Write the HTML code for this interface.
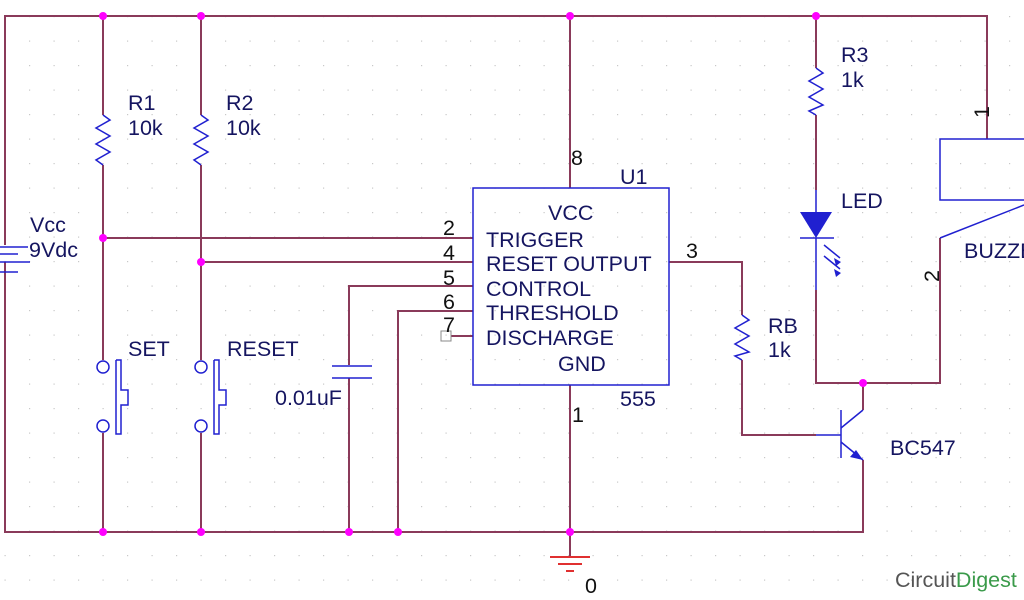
<!DOCTYPE html>
<html><head><meta charset="utf-8"><style>
html,body{margin:0;padding:0;background:#fff;width:1024px;height:600px;overflow:hidden}
text{font-family:"Liberation Sans",Arial,sans-serif;font-size:21.5px;fill:#151560}
.n{fill:#111}
</style></head><body>
<svg width="1024" height="600" viewBox="0 0 1024 600" xmlns="http://www.w3.org/2000/svg">
<defs><pattern id="g" x="4.5" y="16" width="24.5" height="24.5" patternUnits="userSpaceOnUse"><rect x="0" y="0" width="1.2" height="1.2" fill="#c8c8c8"/></pattern></defs>
<rect width="1024" height="600" fill="url(#g)"/>
<g stroke="#8a3a5a" stroke-width="2" fill="none">
<polyline points="5,245 5,16 987,16 987,139"/>
<polyline points="5,262 5,532 863,532 863,460"/>
<line x1="103" y1="16" x2="103" y2="115"/><line x1="103" y1="165" x2="103" y2="360"/><line x1="103" y1="433" x2="103" y2="532"/>
<line x1="201" y1="16" x2="201" y2="115"/><line x1="201" y1="165" x2="201" y2="360"/><line x1="201" y1="433" x2="201" y2="532"/>
<line x1="103" y1="238" x2="473" y2="238"/>
<line x1="201" y1="262" x2="473" y2="262"/>
<polyline points="473,286 349,286 349,365"/><line x1="349" y1="378" x2="349" y2="532"/>
<polyline points="473,311 398,311 398,532"/>
<line x1="451" y1="336" x2="473" y2="336"/>
<line x1="570" y1="16" x2="570" y2="188"/>
<line x1="570" y1="385" x2="570" y2="557"/>
<polyline points="669,262 742,262 742,315"/>
<polyline points="742,360 742,435 816,435"/>
<line x1="816" y1="16" x2="816" y2="68"/><line x1="816" y1="115" x2="816" y2="190"/>
<polyline points="816,290 816,383 940,383 940,238"/>
<line x1="863" y1="383" x2="863" y2="410"/>
</g>
<g stroke="#e03030" stroke-width="2">
<line x1="550" y1="557" x2="590" y2="557"/><line x1="558" y1="564" x2="582" y2="564"/><line x1="566" y1="571" x2="574" y2="571"/>
</g>
<g stroke="#2020d0" stroke-width="1.5" fill="none">
<polyline points="103,115 110,120 96,128 110,136 96,144 110,152 96,160 103,165"/>
<polyline points="201,115 208,120 194,128 208,136 194,144 208,152 194,160 201,165"/>
<polyline points="816,68 823,73 809,81 823,89 809,97 823,105 809,111 816,115"/>
<polyline points="742,315 749,320 735,328 749,336 735,344 749,352 735,356 742,360"/>
<line x1="0" y1="247" x2="28" y2="247"/><line x1="0" y1="254" x2="18" y2="254"/><line x1="0" y1="262" x2="30" y2="262"/><line x1="0" y1="272" x2="18" y2="272"/>
<circle cx="103" cy="367" r="6"/><circle cx="103" cy="426" r="6"/>
<polyline points="116,360 121,360 121,390 128,390 128,405 121,405 121,434 116,434 116,360"/>
<circle cx="201" cy="367" r="6"/><circle cx="201" cy="426" r="6"/>
<polyline points="214,360 219,360 219,390 226,390 226,405 219,405 219,434 214,434 214,360"/>
<line x1="332" y1="366" x2="372" y2="366"/><line x1="332" y1="378" x2="372" y2="378"/>
<rect x="473" y="188" width="196" height="197"/>
<line x1="816" y1="190" x2="816" y2="212"/><line x1="816" y1="238" x2="816" y2="290"/>
<line x1="800" y1="238" x2="834" y2="238"/>
<line x1="824" y1="245" x2="840" y2="258"/><line x1="824" y1="256" x2="840" y2="269"/>
<rect x="940" y="139" width="90" height="61"/>
<line x1="940" y1="238" x2="1024" y2="205"/>
<line x1="816" y1="435" x2="841" y2="435"/>
<line x1="841" y1="410" x2="841" y2="458"/>
<line x1="841" y1="428" x2="863" y2="410"/>
<line x1="841" y1="442" x2="863" y2="460"/>
</g>
<polygon points="800,212 832,212 816,238" fill="#2020d0"/>
<polygon points="834,258 841,262 836,266" fill="#2020d0"/>
<polygon points="834,269 841,273 836,277" fill="#2020d0"/>
<polygon points="863,460 850,457 856,450" fill="#2020d0"/>
<rect x="441" y="331" width="10" height="10" fill="none" stroke="#888" stroke-width="1"/>
<g fill="#ff00ff">
<circle cx="103" cy="16" r="4"/><circle cx="201" cy="16" r="4"/><circle cx="570" cy="16" r="4"/><circle cx="816" cy="16" r="4"/>
<circle cx="103" cy="238" r="4"/><circle cx="201" cy="262" r="4"/>
<circle cx="103" cy="532" r="4"/><circle cx="201" cy="532" r="4"/><circle cx="349" cy="532" r="4"/><circle cx="398" cy="532" r="4"/><circle cx="570" cy="532" r="4"/>
<circle cx="863" cy="383" r="4"/>
</g>
<text x="128" y="110">R1</text><text x="128" y="135">10k</text>
<text x="226" y="110">R2</text><text x="226" y="135">10k</text>
<text x="30" y="232">Vcc</text><text x="29" y="257">9Vdc</text>
<text x="128" y="356">SET</text><text x="227" y="356">RESET</text>
<text x="275" y="405">0.01uF</text>
<text x="841" y="62">R3</text><text x="841" y="87">1k</text>
<text x="841" y="208">LED</text>
<text x="964" y="258">BUZZER</text>
<text x="768" y="333">RB</text><text x="768" y="357">1k</text>
<text x="890" y="455">BC547</text>
<text x="548" y="220">VCC</text>
<text x="486" y="247">TRIGGER</text>
<text x="486" y="271">RESET OUTPUT</text>
<text x="486" y="296">CONTROL</text>
<text x="486" y="320">THRESHOLD</text>
<text x="486" y="345">DISCHARGE</text>
<text x="558" y="371">GND</text>
<text x="620" y="184">U1</text>
<text x="620" y="406">555</text>
<text class="n" x="443" y="235" font-size="19">2</text>
<text class="n" x="443" y="260" font-size="19">4</text>
<text class="n" x="443" y="285" font-size="19">5</text>
<text class="n" x="443" y="309" font-size="19">6</text>
<text class="n" x="443" y="332" font-size="19">7</text>
<text class="n" x="571" y="165" font-size="19">8</text>
<text class="n" x="572" y="422" font-size="19">1</text>
<text class="n" x="686" y="258" font-size="19">3</text>
<text class="n" x="585" y="593" font-size="22">0</text>
<text class="n" font-size="19" transform="translate(989,118) rotate(-90)">1</text>
<text class="n" font-size="19" transform="translate(939,282) rotate(-90)">2</text>
<text x="895" y="587" font-size="24" style="fill:#555">Circuit<tspan style="fill:#3a9a4a">Digest</tspan></text>
</svg>
</body></html>
